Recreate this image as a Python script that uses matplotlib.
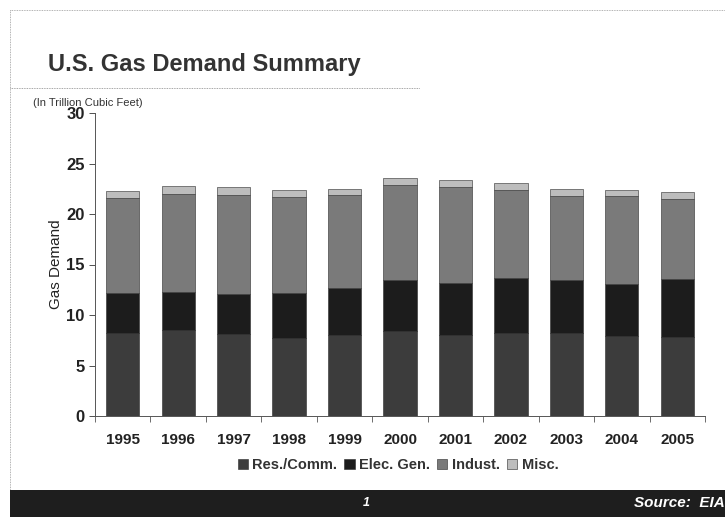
import matplotlib
matplotlib.use('Agg')
import matplotlib.pyplot as plt
from matplotlib.lines import Line2D
from matplotlib.patches import Rectangle
import numpy as np

plt.rc('font', family='Liberation Sans')

# data (trillion cubic feet)
years = ['1995', '1996', '1997', '1998', '1999', '2000', '2001', '2002', '2003', '2004', '2005']
res_comm = [8.2, 8.5, 8.1, 7.7, 8.0, 8.4, 8.0, 8.2, 8.2, 7.9, 7.8]
elec_gen = [4.0, 3.8, 4.0, 4.5, 4.7, 5.1, 5.2, 5.45, 5.3, 5.2, 5.75]
indust = [9.4, 9.7, 9.8, 9.5, 9.2, 9.4, 9.5, 8.7, 8.3, 8.7, 7.95]
misc = [0.65, 0.75, 0.75, 0.65, 0.6, 0.7, 0.65, 0.75, 0.7, 0.6, 0.7]

series = [("Res./Comm.", res_comm, '#3c3c3c'),
          ("Elec. Gen.", elec_gen, '#1c1c1c'),
          ("Indust.", indust, '#7a7a7a'),
          ("Misc.", misc, '#bdbdbd')]

W, H = 725, 517
fig = plt.figure(figsize=(W / 100, H / 100), dpi=100)
ax = fig.add_axes([95 / W, 1 - 416 / H, 610 / W, 303 / H])

x = np.arange(len(years))
bottom = np.zeros(len(years))
for name, vals, col in series:
    ax.bar(x, vals, 0.6, bottom=bottom, color=col, edgecolor='#2a2a2a', linewidth=0.4, label=name)
    bottom += np.array(vals)

ax.set_xlim(-0.5, len(years) - 0.5)
ax.set_ylim(0, 30)
ax.set_yticks([0, 5, 10, 15, 20, 25, 30])
ax.tick_params(axis='y', labelsize=12, length=4, width=0.6, colors='#333333')
for t in ax.get_yticklabels():
    t.set_fontweight('bold')
    t.set_color('#222222')

ax.set_xticks(x)
ax.set_xticklabels(years, fontsize=11, fontweight='bold', color='#222222')
ax.tick_params(axis='x', length=0, pad=12)
ax.set_xticks(np.arange(len(years) + 1) - 0.5, minor=True)
ax.tick_params(axis='x', which='minor', length=4, width=0.6, colors='#555555')

for s in ['top', 'right']:
    ax.spines[s].set_visible(False)
for s in ['left', 'bottom']:
    ax.spines[s].set_color('#555555')
    ax.spines[s].set_linewidth(0.7)

ax.set_ylabel('Gas Demand', fontsize=11, color='#222222', labelpad=2)

leg = fig.legend(loc='center', bbox_to_anchor=(398 / W, 1 - 465 / H), ncol=4, frameon=False,
                 fontsize=10.5, handlelength=0.7, handleheight=0.7, handletextpad=0.3,
                 columnspacing=0.5)
for t in leg.get_texts():
    t.set_fontweight('bold')
    t.set_color('#333333')

# title and subtitle
fig.text(48 / W, 1 - 64 / H, 'U.S. Gas Demand Summary', fontsize=17, fontweight='bold',
         color='#333333', va='center', ha='left')
fig.text(33 / W, 1 - 103 / H, '(In Trillion Cubic Feet)', fontsize=8, color='#333333',
         va='center', ha='left')

# dotted frame lines
fig.add_artist(Line2D([10 / W, 420 / W], [1 - 88 / H, 1 - 88 / H], color='#888888',
                      linewidth=0.6, linestyle=(0, (1, 1))))
fig.add_artist(Line2D([10 / W, 1], [1 - 10 / H, 1 - 10 / H], color='#999999',
                      linewidth=0.6, linestyle=(0, (1, 1))))
fig.add_artist(Line2D([10 / W, 10 / W], [1 - 10 / H, 1 - 490 / H], color='#999999',
                      linewidth=0.6, linestyle=(0, (1, 1))))

# bottom dark band
fig.add_artist(Rectangle((10 / W, 0), 1 - 10 / W, 27 / H, transform=fig.transFigure,
                         facecolor='#1e1e1e', edgecolor='none'))
fig.text(366 / W, 1 - 503 / H, '1', fontsize=9, fontweight='bold', style='italic',
         color='white', va='center', ha='center')
fig.text(634 / W, 1 - 503 / H, 'Source:  EIA', fontsize=11, fontweight='bold', style='italic',
         color='white', va='center', ha='left')

fig.savefig('out.png', dpi=100)
